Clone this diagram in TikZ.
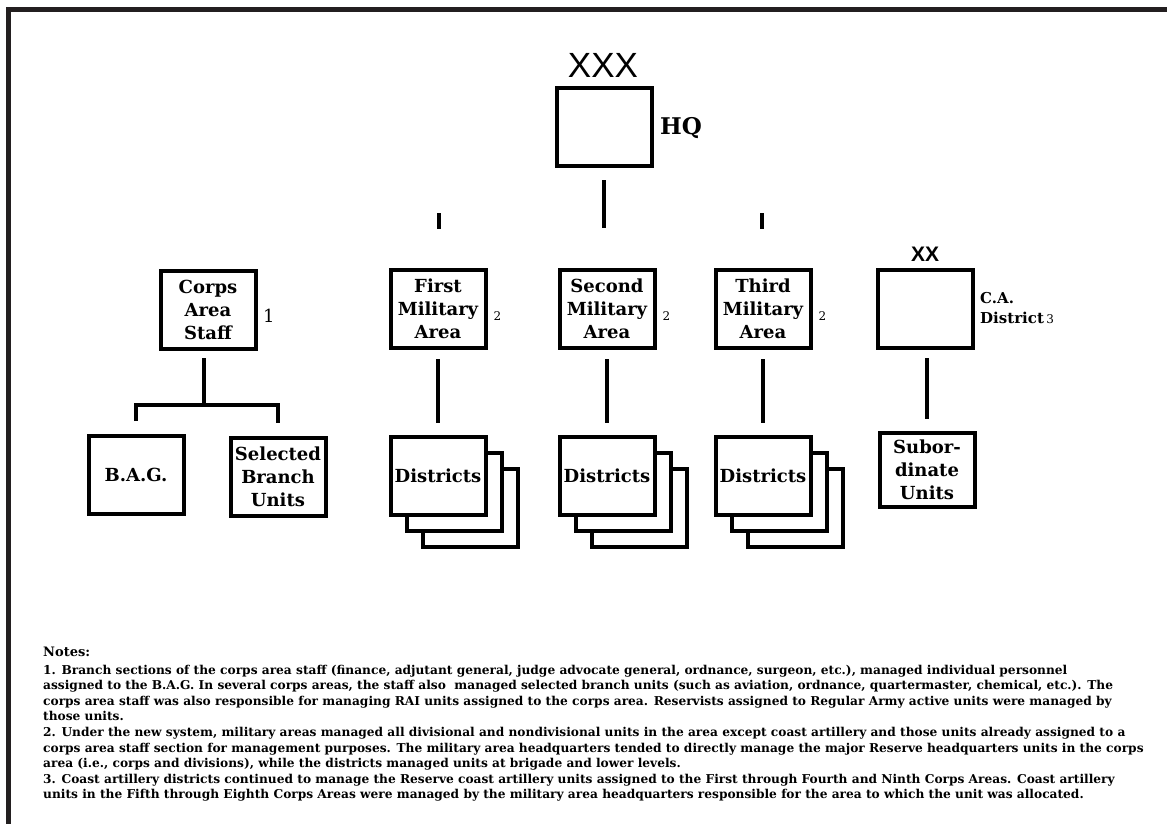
\documentclass[tikz,border=0pt]{standalone}
\usepackage{fontspec}
\setmainfont{DejaVu Serif}
\newfontfamily\sansfont{Liberation Sans}
\usetikzlibrary{calc}
\tikzset{
  orgbox/.style={draw=black, line width=4pt, fill=white, minimum width=95pt, minimum height=78pt, inner sep=0pt, align=center, font=\bfseries\fontsize{18}{23}\selectfont},
  conn/.style={line width=4pt},
  notetext/.style={anchor=base west, inner sep=0pt, font=\bfseries\fontsize{12.2}{12}\selectfont},
  lbl/.style={anchor=base west, inner sep=0pt},
}
\begin{document}
\begin{tikzpicture}[x=1pt,y=-1pt]
\useasboundingbox (0,0) rectangle (1167,824);
% frame (left and top edges)
\coordinate (fbl) at (8.5,824);
\coordinate (ftl) at (8.5,9.5);
\coordinate (ftr) at (1167,9.5);
\draw[line width=5pt, draw={rgb,255:red,35;green,31;blue,32}] (fbl) -- (ftl) -- (ftr);

% top HQ
\node[orgbox] (hq) at (604,127) {};
\node[anchor=base, inner sep=0pt, font=\sansfont\fontsize{35}{35}\selectfont] (xxx) at (603,78) {XXX};
\node[lbl, font=\bfseries\fontsize{23}{23}\selectfont] (hqlbl) at (660,135) {HQ};
\draw[conn] ([yshift=-12pt]hq.south) -- ([yshift=-60pt]hq.south);

% ticks
\coordinate (t1a) at (439,213); \coordinate (t1b) at (439,229);
\coordinate (t3a) at (762,213); \coordinate (t3b) at (762,229);
\draw[conn] (t1a) -- (t1b);
\draw[conn] (t3a) -- (t3b);

% corps area staff
\node[orgbox] (cas) at (208,310) {Corps\\Area\\Staff};
\node[lbl, font=\fontsize{18}{18}\selectfont] (n1) at (263,322) {1};
\node[orgbox] (bag) at (136,475) {B.A.G.};
\node[orgbox] (sbu) at (278,477) {Selected\\Branch\\Units};
\coordinate (cj) at (204,405);
\draw[conn] ([yshift=-7pt]cas.south -| cj) -- (cj);
\draw[conn] ([yshift=13pt]bag.north) -- (bag.north |- cj) -- (sbu.north |- cj) -- ([yshift=13pt]sbu.north);

% military areas
\foreach \nm/\x/\txt in {fma/438/First, sma/607/Second, tma/763/Third}{
  \node[orgbox] (\nm) at (\x,309) {\txt\\Military\\Area};
  \node[lbl, font=\fontsize{12}{12}\selectfont] at ($(\nm.east)+(6,11)$) {2};
  \node[orgbox] (\nm d3) at (\x+32,508) {};
  \node[orgbox] (\nm d2) at (\x+16,492) {};
  \node[orgbox] (\nm d) at (\x,476) {Districts};
  \draw[conn] ([yshift=-9pt]\nm.south) -- ([yshift=12pt]\nm d.north);
}

% C.A. District
\node[orgbox] (cad) at (925,309) {};
\node[anchor=base, inner sep=0pt, font=\sansfont\bfseries\fontsize{21}{21}\selectfont] (xx) at (925,261) {XX};
\node[lbl, font=\bfseries\fontsize{15}{15}\selectfont] (ca1) at (980,303) {C.A.};
\node[lbl, font=\bfseries\fontsize{15}{15}\selectfont] (ca2) at (980,323) {District\,{\mdseries\fontsize{12}{12}\selectfont 3}};
\node[orgbox, minimum height=74pt] (sub) at (927,470) {Subor-\\dinate\\Units};
\draw[conn] ([yshift=-8pt]cad.south -| sub.north) -- ([yshift=12pt]sub.north);

% notes
\node[notetext, font=\bfseries\fontsize{13}{13}\selectfont] (notes) at (43,656) {Notes:};
\node[notetext] (l1) at (43,674) {1. Branch sections of the corps area staff (finance, adjutant general, judge advocate general, ordnance, surgeon, etc.), managed individual personnel};
\node[notetext] (l2) at (43,689.6) {assigned to the B.A.G. In several corps areas, the staff also\ \ managed selected branch units (such as aviation, ordnance, quartermaster, chemical, etc.). The};
\node[notetext] (l3) at (43,705.2) {corps area staff was also responsible for managing RAI units assigned to the corps area. Reservists assigned to Regular Army active units were managed by};
\node[notetext] (l4) at (43,720.8) {those units.};
\node[notetext] (l5) at (43,736.4) {2. Under the new system, military areas managed all divisional and nondivisional units in the area except coast artillery and those units already assigned to a};
\node[notetext] (l6) at (43,752) {corps area staff section for management purposes. The military area headquarters tended to directly manage the major Reserve headquarters units in the corps};
\node[notetext] (l7) at (43,767.6) {area (i.e., corps and divisions), while the districts managed units at brigade and lower levels.};
\node[notetext] (l8) at (43,783.2) {3. Coast artillery districts continued to manage the Reserve coast artillery units assigned to the First through Fourth and Ninth Corps Areas. Coast artillery};
\node[notetext] (l9) at (43,798.8) {units in the Fifth through Eighth Corps Areas were managed by the military area headquarters responsible for the area to which the unit was allocated.};
\end{tikzpicture}
\end{document}
